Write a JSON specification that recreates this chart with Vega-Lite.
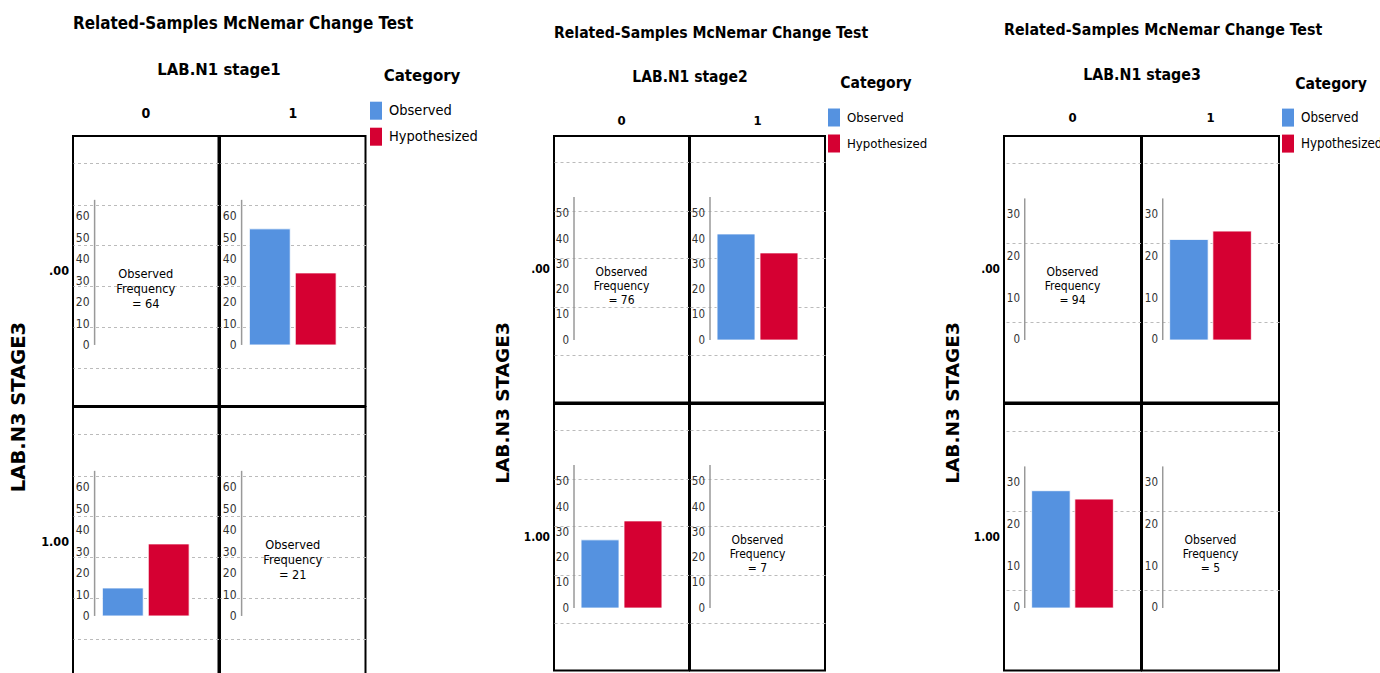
{
  "$schema": "https://vega.github.io/schema/vega-lite/v6.json",
  "background": "white",
  "padding": {"left": 8, "top": 14, "right": 0, "bottom": 0},
  "config": {
    "font": "DejaVu Sans Condensed, Liberation Sans, sans-serif",
    "view": {"stroke": "#000", "strokeWidth": 2},
    "axis": {"labelFont": "DejaVu Sans Condensed, Liberation Sans, sans-serif", "labelColor": "#333", "minExtent": 0, "maxExtent": 0},
    "axisY": {"minExtent": 0, "maxExtent": 0},
    "legend": {"labelFont": "DejaVu Sans Condensed, Liberation Sans, sans-serif", "titleFont": "DejaVu Sans Condensed, Liberation Sans, sans-serif"},
    "header": {"labelFont": "DejaVu Sans Condensed, Liberation Sans, sans-serif", "titleFont": "DejaVu Sans Condensed, Liberation Sans, sans-serif", "labelColor": "#000", "titleColor": "#000"}
  },
  "datasets": {
    "s1": [
      {"n1": "0", "n3": ".00", "label": "Observed\nFrequency\n= 64"},
      {"n1": "1", "n3": ".00", "Category": "Observed", "value": 54},
      {"n1": "1", "n3": ".00", "Category": "Hypothesized", "value": 33.5},
      {"n1": "0", "n3": "1.00", "Category": "Observed", "value": 13},
      {"n1": "0", "n3": "1.00", "Category": "Hypothesized", "value": 33.5},
      {"n1": "1", "n3": "1.00", "label": "Observed\nFrequency\n= 21"}
    ],
    "s2": [
      {"n1": "0", "n3": ".00", "label": "Observed\nFrequency\n= 76"},
      {"n1": "1", "n3": ".00", "Category": "Observed", "value": 42},
      {"n1": "1", "n3": ".00", "Category": "Hypothesized", "value": 34.5},
      {"n1": "0", "n3": "1.00", "Category": "Observed", "value": 27},
      {"n1": "0", "n3": "1.00", "Category": "Hypothesized", "value": 34.5},
      {"n1": "1", "n3": "1.00", "label": "Observed\nFrequency\n= 7"}
    ],
    "s3": [
      {"n1": "0", "n3": ".00", "label": "Observed\nFrequency\n= 94"},
      {"n1": "1", "n3": ".00", "Category": "Observed", "value": 24},
      {"n1": "1", "n3": ".00", "Category": "Hypothesized", "value": 26},
      {"n1": "0", "n3": "1.00", "Category": "Observed", "value": 28},
      {"n1": "0", "n3": "1.00", "Category": "Hypothesized", "value": 26},
      {"n1": "1", "n3": "1.00", "label": "Observed\nFrequency\n= 5"}
    ]
  },
  "hconcat": [
    {
      "title": {"text": "Related-Samples McNemar Change Test", "font": "DejaVu Sans Condensed, Liberation Sans, sans-serif", "fontWeight": "bold", "color": "#000", "anchor": "start", "frame": "group", "fontSize": 16.9, "offset": 30},
      "data": {"name": "s1"},
      "spacing": -1,
      "facet": {
        "row": {"field": "n3", "type": "nominal", "sort": [".00", "1.00"], "title": "LAB.N3 STAGE3",
          "header": {"labelAngle": 0, "labelAlign": "left", "labelFontSize": 12.5, "labelFontWeight": "bold", "labelPadding": 3, "titleFont": "DejaVu Sans", "titleFontSize": 19.5, "titleFontWeight": "bold", "titlePadding": 2}},
        "column": {"field": "n1", "type": "nominal", "sort": ["0", "1"], "title": "LAB.N1 stage1",
          "header": {"labelFontSize": 14, "labelFontWeight": "bold", "labelPadding": 14, "titleFontSize": 16.6, "titleFontWeight": "bold", "titlePadding": 18}}
      },
      "spec": {
        "width": 145.5,
        "height": 270,
        "layer": [
          {
            "mark": {"type": "bar", "stroke": "#fff", "strokeWidth": 0.8},
            "encoding": {
              "x": {"field": "Category", "type": "nominal", "sort": ["Observed", "Hypothesized"], "axis": null,
                "scale": {"domain": ["Observed", "Hypothesized"], "paddingInner": 0.11, "paddingOuter": 0.64}},
              "y": {"field": "value", "type": "quantitative", "scale": {"domain": [-28.4, 97.2], "nice": false},
                "axis": {"orient": "left", "values": [0, 10, 20, 30, 40, 50, 60], "minExtent": 0, "maxExtent": 0, "domain": false, "ticks": false, "tickSize": 0, "grid": false, "labelAlign": "right", "labelPadding": -16, "labelFontSize": 12, "title": null}},
              "color": {"field": "Category", "type": "nominal", "scale": {"domain": ["Observed", "Hypothesized"], "range": ["#5592E0", "#D50032"]},
                "legend": {"title": "Category", "orient": "none", "legendX": 294, "legendY": -68, "symbolType": "M-0.67,-1H0.67V1H-0.67Z", "symbolSize": 324, "symbolStrokeWidth": 0, "symbolOpacity": 1, "labelFontSize": 14.5, "titleFontSize": 16.7, "titleFontWeight": "bold", "rowPadding": 8, "labelOffset": 4, "titlePadding": 17, "titleAnchor": "middle"}}
            }
          },
          {
            "transform": [{"filter": "datum.label || datum.Category == 'Observed'"}],
            "mark": {"type": "rule", "color": "#999", "strokeWidth": 1.5},
            "encoding": {
              "x": {"datum": "Observed", "type": "nominal", "bandPosition": -0.19},
              "y": {"datum": 0, "type": "quantitative",
                "axis": {"orient": "right", "values": [84.5, 65.3, 46.4, 27.3, 8.5, -10.5], "minExtent": 0, "maxExtent": 0, "grid": true, "gridDash": [3, 3], "gridColor": "#bbb", "gridWidth": 1.2, "labels": false, "ticks": false, "domain": false, "title": null}},
              "y2": {"datum": 67.5}
            }
          },
          {
            "transform": [{"filter": "datum.label"}],
            "mark": {"type": "text", "lineBreak": "\n", "fontSize": 12.7, "lineHeight": 15, "color": "#000"},
            "encoding": {
              "y": {"datum": 33, "type": "quantitative", "axis": null},
              "text": {"field": "label"}
            }
          }
        ],
        "resolve": {"axis": {"y": "independent"}}
      },
      "resolve": {"axis": {"y": "independent"}}
    },
    {
      "title": {"text": "Related-Samples McNemar Change Test", "font": "DejaVu Sans Condensed, Liberation Sans, sans-serif", "fontWeight": "bold", "color": "#000", "anchor": "start", "frame": "group", "fontSize": 15.6, "offset": 28.4},
      "data": {"name": "s2"},
      "spacing": -1,
      "facet": {
        "row": {"field": "n3", "type": "nominal", "sort": [".00", "1.00"], "title": "LAB.N3 STAGE3",
          "header": {"labelAngle": 0, "labelAlign": "left", "labelFontSize": 11.8, "labelFontWeight": "bold", "labelPadding": 3, "titleFont": "DejaVu Sans", "titleFontSize": 18.5, "titleFontWeight": "bold", "titlePadding": 1}},
        "column": {"field": "n1", "type": "nominal", "sort": ["0", "1"], "title": "LAB.N1 stage2",
          "header": {"labelFontSize": 13, "labelFontWeight": "bold", "labelPadding": 7, "titleFontSize": 15.5, "titleFontWeight": "bold", "titlePadding": 19.6}}
      },
      "spec": {
        "width": 135,
        "height": 266.4,
        "layer": [
          {
            "mark": {"type": "bar", "stroke": "#fff", "strokeWidth": 0.8},
            "encoding": {
              "x": {"field": "Category", "type": "nominal", "sort": ["Observed", "Hypothesized"], "axis": null,
                "scale": {"domain": ["Observed", "Hypothesized"], "paddingInner": 0.117, "paddingOuter": 0.63}},
              "y": {"field": "value", "type": "quantitative", "scale": {"domain": [-24.7, 80.8], "nice": false},
                "axis": {"orient": "left", "values": [0, 10, 20, 30, 40, 50], "minExtent": 0, "maxExtent": 0, "domain": false, "ticks": false, "tickSize": 0, "grid": false, "labelAlign": "right", "labelPadding": -14.5, "labelFontSize": 11.5, "title": null}},
              "color": {"field": "Category", "type": "nominal", "scale": {"domain": ["Observed", "Hypothesized"], "range": ["#5592E0", "#D50032"]},
                "legend": {"title": "Category", "orient": "none", "legendX": 271, "legendY": -60, "symbolType": "M-0.67,-1H0.67V1H-0.67Z", "symbolSize": 324, "symbolStrokeWidth": 0, "symbolOpacity": 1, "labelFontSize": 13.1, "titleFontSize": 15.5, "titleFontWeight": "bold", "rowPadding": 8, "labelOffset": 4, "titlePadding": 17, "titleAnchor": "middle"}}
            }
          },
          {
            "transform": [{"filter": "datum.label || datum.Category == 'Observed'"}],
            "mark": {"type": "rule", "color": "#999", "strokeWidth": 1.5},
            "encoding": {
              "x": {"datum": "Observed", "type": "nominal", "bandPosition": -0.186},
              "y": {"datum": 0, "type": "quantitative",
                "axis": {"orient": "right", "values": [70.4, 51.2, 32.3, 13.1, -5.9], "minExtent": 0, "maxExtent": 0, "grid": true, "gridDash": [3, 3], "gridColor": "#bbb", "gridWidth": 1.2, "labels": false, "ticks": false, "domain": false, "title": null}},
              "y2": {"datum": 56.6}
            }
          },
          {
            "transform": [{"filter": "datum.label"}],
            "mark": {"type": "text", "lineBreak": "\n", "fontSize": 12, "lineHeight": 14, "color": "#000"},
            "encoding": {
              "y": {"datum": 26.8, "type": "quantitative", "axis": null},
              "text": {"field": "label"}
            }
          }
        ],
        "resolve": {"axis": {"y": "independent"}}
      },
      "resolve": {"axis": {"y": "independent"}}
    },
    {
      "title": {"text": "Related-Samples McNemar Change Test", "font": "DejaVu Sans Condensed, Liberation Sans, sans-serif", "fontWeight": "bold", "color": "#000", "anchor": "start", "frame": "group", "fontSize": 15.8, "offset": 28.4},
      "data": {"name": "s3"},
      "spacing": -1,
      "facet": {
        "row": {"field": "n3", "type": "nominal", "sort": [".00", "1.00"], "title": "LAB.N3 STAGE3",
          "header": {"labelAngle": 0, "labelAlign": "left", "labelFontSize": 11.8, "labelFontWeight": "bold", "labelPadding": 3, "titleFont": "DejaVu Sans", "titleFontSize": 18.5, "titleFontWeight": "bold", "titlePadding": 1}},
        "column": {"field": "n1", "type": "nominal", "sort": ["0", "1"], "title": "LAB.N1 stage3",
          "header": {"labelFontSize": 13, "labelFontWeight": "bold", "labelPadding": 10, "titleFontSize": 15.8, "titleFontWeight": "bold", "titlePadding": 18}}
      },
      "spec": {
        "width": 137,
        "height": 266.4,
        "layer": [
          {
            "mark": {"type": "bar", "stroke": "#fff", "strokeWidth": 0.8},
            "encoding": {
              "x": {"field": "Category", "type": "nominal", "sort": ["Observed", "Hypothesized"], "axis": null,
                "scale": {"domain": ["Observed", "Hypothesized"], "paddingInner": 0.109, "paddingOuter": 0.64}},
              "y": {"field": "value", "type": "quantitative", "scale": {"domain": [-14.9, 48.7], "nice": false},
                "axis": {"orient": "left", "values": [0, 10, 20, 30], "minExtent": 0, "maxExtent": 0, "domain": false, "ticks": false, "tickSize": 0, "grid": false, "labelAlign": "right", "labelPadding": -15.5, "labelFontSize": 11.5, "title": null}},
              "color": {"field": "Category", "type": "nominal", "scale": {"domain": ["Observed", "Hypothesized"], "range": ["#5592E0", "#D50032"]},
                "legend": {"title": "Category", "orient": "none", "legendX": 275, "legendY": -59, "symbolType": "M-0.67,-1H0.67V1H-0.67Z", "symbolSize": 324, "symbolStrokeWidth": 0, "symbolOpacity": 1, "labelFontSize": 13.3, "titleFontSize": 15.6, "titleFontWeight": "bold", "rowPadding": 8, "labelOffset": 4, "titlePadding": 16, "titleAnchor": "middle"}}
            }
          },
          {
            "transform": [{"filter": "datum.label || datum.Category == 'Observed'"}],
            "mark": {"type": "rule", "color": "#999", "strokeWidth": 1.5},
            "encoding": {
              "x": {"datum": "Observed", "type": "nominal", "bandPosition": -0.18},
              "y": {"datum": 0, "type": "quantitative",
                "axis": {"orient": "right", "values": [42.3, 23.1, 4.2], "minExtent": 0, "maxExtent": 0, "grid": true, "gridDash": [3, 3], "gridColor": "#bbb", "gridWidth": 1.2, "labels": false, "ticks": false, "domain": false, "title": null}},
              "y2": {"datum": 33.8}
            }
          },
          {
            "transform": [{"filter": "datum.label"}],
            "mark": {"type": "text", "lineBreak": "\n", "fontSize": 12, "lineHeight": 14, "color": "#000"},
            "encoding": {
              "y": {"datum": 16.3, "type": "quantitative", "axis": null},
              "text": {"field": "label"}
            }
          }
        ],
        "resolve": {"axis": {"y": "independent"}}
      },
      "resolve": {"axis": {"y": "independent"}}
    }
  ],
  "spacing": 15,
  "resolve": {"scale": {"color": "independent"}, "legend": {"color": "independent"}}
}
